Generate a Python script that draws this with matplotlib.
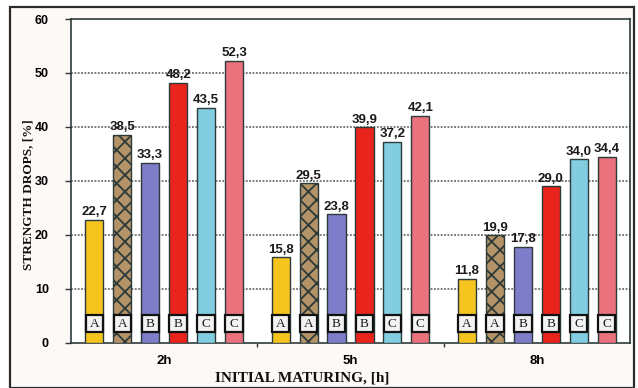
import matplotlib
matplotlib.use("Agg")
import matplotlib.pyplot as plt
import numpy as np
from matplotlib.patches import Rectangle

# Strength drops [%] after initial maturing, per cement series
categories = ["2h", "5h", "8h"]
series_letters = ["A", "A", "B", "B", "C", "C"]
values = [
    [22.7, 15.8, 11.8],
    [38.5, 29.5, 19.9],
    [33.3, 23.8, 17.8],
    [48.2, 39.9, 29.0],
    [43.5, 37.2, 34.0],
    [52.3, 42.1, 34.4],
]
y_ticks = [0, 10, 20, 30, 40, 50, 60]

colors = ["#F6C41F", "#B39367", "#7F7DC9", "#E8241D", "#83CDE1", "#E9727D"]
hatches = [None, "xx", None, None, None, None]

W, H = 638, 388
fig = plt.figure(figsize=(W / 100, H / 100), dpi=100)
fig.patch.set_facecolor("white")

# outer chart frame
frame = Rectangle((10 / W, 0.0), (634 - 10) / W, (H - 7) / H,
                  transform=fig.transFigure, facecolor="#fdf9f7",
                  edgecolor="#2b2b2b", linewidth=1.6, zorder=-5)
fig.patches.append(frame)

ax = fig.add_axes([71 / W, (H - 342.5) / H, (630 - 71) / W, (342.5 - 19) / H])
ax.set_zorder(2)
ax.set_facecolor("white")

plt.rcParams["hatch.color"] = "#5e4020"
plt.rcParams["hatch.linewidth"] = 1.3

slot = 0.15
bar_w = 0.097
x = np.arange(len(categories)) + 0.5
for i, (vals, c, h) in enumerate(zip(values, colors, hatches)):
    pos = x + (i - 2.5) * slot
    ax.bar(pos, vals, width=bar_w, color=c, edgecolor="#2c3a3a",
           linewidth=1.0, hatch=h, zorder=3)
    # series letter tags near the base of each bar
    ax.bar(pos, 3.1, bottom=2.0, width=bar_w * 0.96, color="#f3f3f3",
           edgecolor="#111111", linewidth=1.6, zorder=4)
    for p, v in zip(pos, vals):
        ax.text(p, v + 0.3, f"{v:.1f}".replace(".", ","), ha="center",
                va="bottom", fontsize=9.5, fontweight="bold",
                family="Liberation Sans", color="#1a1a1a", zorder=5)
        ax.text(p, 3.5, series_letters[i], ha="center", va="center",
                fontsize=9.5, family="Liberation Serif", color="#1a1a1a",
                zorder=6)

ax.set_xlim(0, 3)
ax.set_ylim(0, 60)
ax.set_yticks(y_ticks)
ax.set_yticklabels([str(t) for t in y_ticks], fontsize=9,
                   fontweight="bold", family="Liberation Sans")
ax.set_xticks(x)
ax.set_xticklabels(categories, fontsize=9.5, fontweight="bold",
                   family="Liberation Sans")
ax.set_xticks([1, 2], minor=True)
ax.tick_params(axis="x", which="major", length=0, pad=9)
ax.tick_params(axis="x", which="minor", length=3, width=1, color="#333")
ax.tick_params(axis="y", length=4, width=1, color="#333", pad=12)

for t in y_ticks[1:-1]:
    ax.axhline(t, color="#555555", linewidth=1.1, linestyle=(0, (1.2, 1.0)),
               zorder=1)
for s in ax.spines.values():
    s.set_color("#2e3b3b")
    s.set_linewidth(1.2)

fig.text(28 / W, 1 - 195 / H, "STRENGTH DROPS, [%]", rotation=90,
         ha="center", va="center", fontsize=9.5, fontweight="bold",
         family="Liberation Serif", color="#111")
fig.text(302 / W, 1 - 378 / H, "INITIAL MATURING, [h]", ha="center",
         va="center", fontsize=11, fontweight="bold",
         family="Liberation Serif", color="#111")

fig.savefig("out.png", dpi=100)
